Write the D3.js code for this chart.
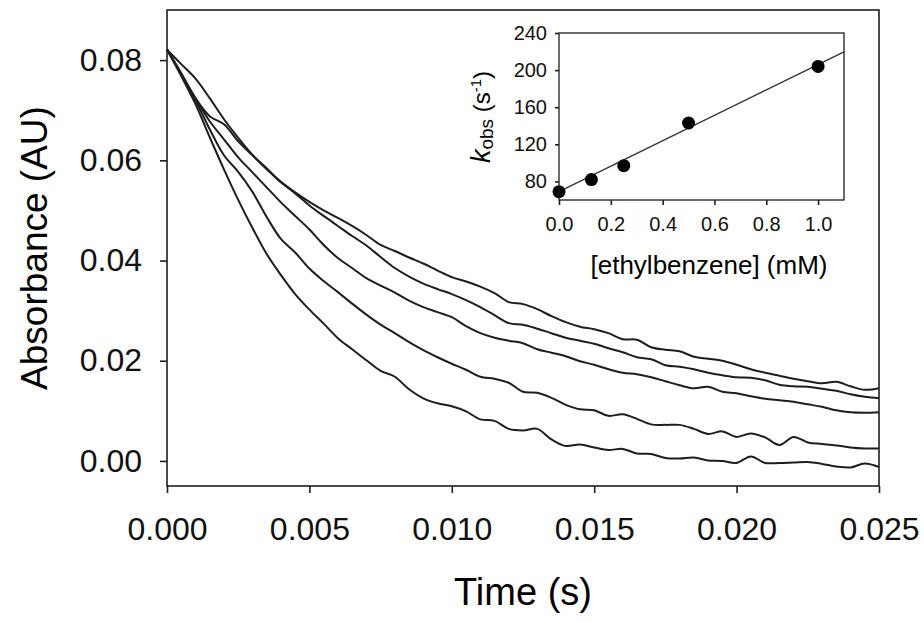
<!DOCTYPE html>
<meta charset="utf-8">
<style>
body { margin: 0; background: #fff; }
svg { font-family: "Liberation Sans", Arial, sans-serif; }
.trace { fill: none; stroke: #1e1e1e; stroke-width: 2px; }
.axis path { display: none; }
.axis line { stroke: #1e1e1e; stroke-width: 1.6px; }
.axis text { fill: #111; }
.frame { fill: none; stroke: #1e1e1e; stroke-width: 1.6px; }
</style>
<body>
<script src="https://d3js.org/d3.v7.min.js"></script>
<script>

// time points (s), shared by all traces
var time = [0, 0.0005, 0.001, 0.0015, 0.002, 0.0025, 0.003, 0.0035, 0.004, 0.0045,
    0.005, 0.0055, 0.006, 0.0065, 0.007, 0.0075, 0.008, 0.0085, 0.009, 0.0095,
    0.010, 0.0105, 0.011, 0.0115, 0.012, 0.0125, 0.013, 0.0135, 0.014, 0.0145,
    0.015, 0.0155, 0.016, 0.0165, 0.017, 0.0175, 0.018, 0.0185, 0.019, 0.0195,
    0.020, 0.0205, 0.021, 0.0215, 0.022, 0.0225, 0.023, 0.0235, 0.024, 0.0245, 0.025];

// absorbance traces (AU), slowest to fastest decay
var traceA = [0.0821, 0.0792, 0.0763, 0.0724, 0.0682, 0.0645, 0.0611, 0.0582, 0.0557, 0.0536,
    0.0517, 0.0500, 0.0485, 0.0469, 0.0451, 0.0431, 0.0419, 0.0406, 0.0394, 0.0380,
    0.0367, 0.0358, 0.0348, 0.0335, 0.0317, 0.0313, 0.0303, 0.0289, 0.0277, 0.0268,
    0.0263, 0.0255, 0.0243, 0.0242, 0.0227, 0.0222, 0.0219, 0.0208, 0.0204, 0.0200,
    0.0192, 0.0183, 0.0176, 0.0170, 0.0164, 0.0159, 0.0155, 0.0158, 0.0149, 0.0142, 0.0145];
var traceB = [0.0821, 0.0774, 0.0724, 0.0688, 0.0672, 0.0638, 0.0610, 0.0584, 0.0556, 0.0534,
    0.0510, 0.0489, 0.0469, 0.0449, 0.0430, 0.0407, 0.0385, 0.0368, 0.0354, 0.0343,
    0.0333, 0.0321, 0.0307, 0.0291, 0.0275, 0.0272, 0.0264, 0.0255, 0.0246, 0.0240,
    0.0234, 0.0225, 0.0217, 0.0207, 0.0203, 0.0191, 0.0188, 0.0183, 0.0176, 0.0171,
    0.0167, 0.0166, 0.0161, 0.0152, 0.0149, 0.0148, 0.0144, 0.0140, 0.0133, 0.0128, 0.0125];
var traceC = [0.0821, 0.0772, 0.0724, 0.0678, 0.0642, 0.0606, 0.0576, 0.0546, 0.0516, 0.0489,
    0.0462, 0.0431, 0.0405, 0.0385, 0.0365, 0.0350, 0.0336, 0.0320, 0.0307, 0.0297,
    0.0287, 0.0269, 0.0255, 0.0246, 0.0240, 0.0235, 0.0223, 0.0216, 0.0209, 0.0199,
    0.0192, 0.0183, 0.0176, 0.0173, 0.0167, 0.0159, 0.0151, 0.0145, 0.0148, 0.0138,
    0.0135, 0.0129, 0.0124, 0.0121, 0.0118, 0.0113, 0.0108, 0.0101, 0.0097, 0.0096, 0.0097];
var traceD = [0.0821, 0.0772, 0.0720, 0.0662, 0.0610, 0.0577, 0.0537, 0.0487, 0.0443, 0.0416,
    0.0384, 0.0359, 0.0337, 0.0314, 0.0292, 0.0272, 0.0255, 0.0237, 0.0221, 0.0207,
    0.0194, 0.0182, 0.0168, 0.0164, 0.0156, 0.0138, 0.0136, 0.0126, 0.0112, 0.0103,
    0.0101, 0.0090, 0.0093, 0.0084, 0.0073, 0.0072, 0.0072, 0.0064, 0.0054, 0.0059,
    0.0048, 0.0055, 0.0047, 0.0032, 0.0048, 0.0037, 0.0034, 0.0031, 0.0027, 0.0025, 0.0025];
var traceE = [0.0821, 0.0768, 0.0712, 0.0646, 0.0582, 0.0521, 0.0465, 0.0413, 0.0371, 0.0333,
    0.0302, 0.0274, 0.0245, 0.0223, 0.0201, 0.0180, 0.0168, 0.0143, 0.0125, 0.0115,
    0.0109, 0.0099, 0.0083, 0.0080, 0.0064, 0.0061, 0.0064, 0.0043, 0.0030, 0.0033,
    0.0027, 0.0022, 0.0024, 0.0015, 0.0014, 0.0006, 0.0005, 0.0007, 0.0001, 0.0000,
    -0.0004, 0.0009, -0.0004, -0.0004, -0.0003, -0.0002, -0.0006, -0.0011, -0.0013, -0.0005, -0.0012];

// inset: observed rate constant vs ethylbenzene concentration
var conc = [0, 0.125, 0.25, 0.5, 1.0];
var kobs = [69, 82, 97, 143, 204];
var fitConc = [0, 1.1];
var fitKobs = [69, 219.7];

// tick values
var xTicks = [0, 0.005, 0.010, 0.015, 0.020, 0.025];
var yTicks = [0, 0.02, 0.04, 0.06, 0.08];
var insetXTicks = [0, 0.2, 0.4, 0.6, 0.8, 1.0];
var insetYTicks = [80, 120, 160, 200, 240];

var svg = d3.select("body").append("svg")
    .attr("width", 924)
    .attr("height", 622);

// ---- main plot ----
var margin = {top: 10, left: 167},
    width = 712,
    height = 476;

var g = svg.append("g")
    .attr("transform", "translate(" + margin.left + "," + margin.top + ")");

var x = d3.scaleLinear().domain([0, 0.025]).range([0, width]);
var y = d3.scaleLinear().domain([-0.005, 0.09]).range([height, 0]);

var traces = [traceA, traceB, traceC, traceD, traceE];

var line = d3.line()
    .curve(d3.curveCatmullRom.alpha(0.5))
    .x(function (d, i) { return x(time[i]); })
    .y(function (d) { return y(d); });

g.selectAll(".trace")
    .data(traces)
    .enter().append("path")
    .attr("class", "trace")
    .attr("d", line);

g.append("g")
    .attr("class", "axis")
    .attr("transform", "translate(0," + height + ")")
    .style("font-size", "32px")
    .call(d3.axisBottom(x).tickValues(xTicks).tickFormat(d3.format(".3f"))
        .tickSize(7).tickPadding(24));

g.append("g")
    .attr("class", "axis")
    .style("font-size", "32px")
    .call(d3.axisLeft(y).tickValues(yTicks).tickFormat(d3.format(".2f"))
        .tickSize(7).tickPadding(18));

g.selectAll(".axis text").attr("font-family", null);
g.selectAll(".axis").attr("font-family", null).attr("font-size", null);

g.append("rect")
    .attr("class", "frame")
    .attr("width", width)
    .attr("height", height);

svg.append("text")
    .attr("transform", "translate(523,605)")
    .attr("text-anchor", "middle")
    .style("font-size", "38px")
    .text("Time (s)");

svg.append("text")
    .attr("transform", "translate(47,248) rotate(-90)")
    .attr("text-anchor", "middle")
    .style("font-size", "37px")
    .text("Absorbance (AU)");

// ---- inset ----
var inset = {left: 559, top: 33, width: 285, height: 167};

var ig = svg.append("g")
    .attr("transform", "translate(" + inset.left + "," + inset.top + ")");

var ix = d3.scaleLinear().domain([0, 1.1]).range([0, inset.width]);
var iy = d3.scaleLinear().domain([60, 240]).range([inset.height, 0]);

ig.append("line")
    .attr("x1", ix(fitConc[0])).attr("y1", iy(fitKobs[0]))
    .attr("x2", ix(fitConc[1])).attr("y2", iy(fitKobs[1]))
    .attr("stroke", "#333")
    .attr("stroke-width", 1.3);

ig.selectAll(".pt")
    .data(conc)
    .enter().append("circle")
    .attr("class", "pt")
    .attr("cx", function (d) { return ix(d); })
    .attr("cy", function (d, i) { return iy(kobs[i]); })
    .attr("r", 6.5)
    .attr("fill", "#000");

ig.append("g")
    .attr("class", "axis")
    .attr("transform", "translate(0," + inset.height + ")")
    .call(d3.axisBottom(ix).tickValues(insetXTicks).tickFormat(d3.format(".1f"))
        .tickSize(5).tickPadding(12));

ig.append("g")
    .attr("class", "axis")
    .call(d3.axisLeft(iy).tickValues(insetYTicks).tickFormat(d3.format("d"))
        .tickSize(4).tickPadding(8));

ig.selectAll(".axis").attr("font-family", null).attr("font-size", null)
    .style("font-size", "20px");

ig.append("rect")
    .attr("class", "frame")
    .attr("width", inset.width)
    .attr("height", inset.height)
    .style("stroke-width", "1.3px");

svg.append("text")
    .attr("x", 709)
    .attr("y", 274)
    .attr("text-anchor", "middle")
    .style("font-size", "26px")
    .text("[ethylbenzene] (mM)");

var kt = svg.append("text")
    .attr("transform", "translate(490,117) rotate(-90)")
    .attr("text-anchor", "middle")
    .style("font-size", "24px");
kt.append("tspan").style("font-style", "italic").style("font-size", "27px").text("k");
kt.append("tspan").style("font-size", "19px").attr("dy", 3).text("obs");
kt.append("tspan").attr("dy", -3).text(" (s");
kt.append("tspan").style("font-size", "15px").attr("dy", -9).text("-1");
kt.append("tspan").attr("dy", 9).text(")");

</script>
</body>
